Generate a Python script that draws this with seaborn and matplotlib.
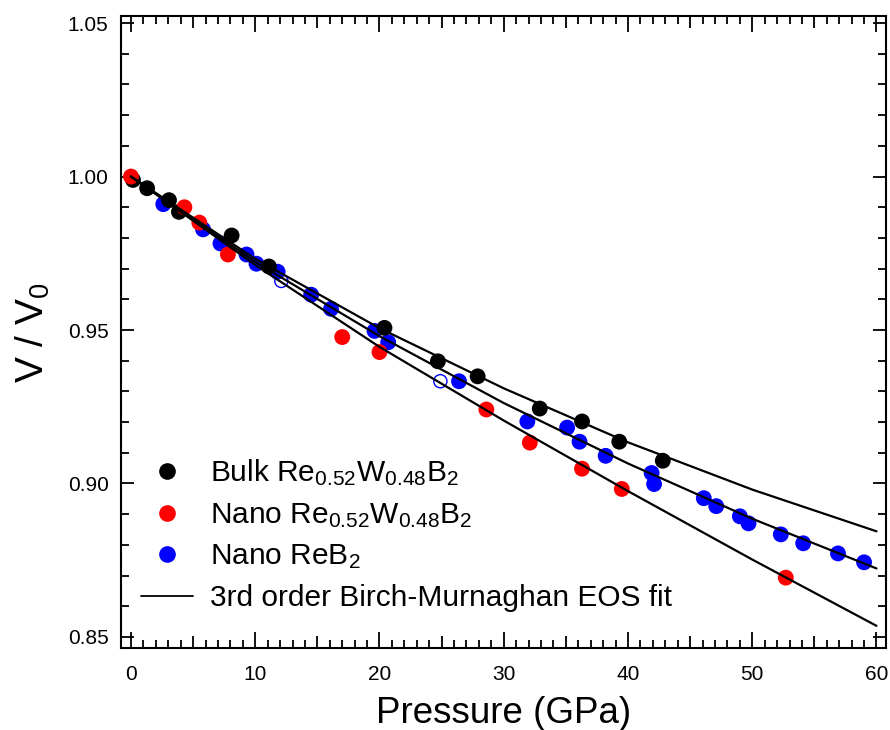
import pandas as pd
import seaborn as sns
import matplotlib.pyplot as plt
from matplotlib.lines import Line2D
from matplotlib.ticker import MultipleLocator

# Pressure (GPa) and V/V0 values
bulk_p = [0.16, 1.3, 3.06, 3.86, 8.1, 11.1, 20.4, 24.7, 27.9, 32.9, 36.3, 39.3, 42.8]
bulk_v = [0.9989, 0.9962, 0.9923, 0.9885, 0.9808, 0.9707, 0.9507, 0.9398,
          0.9349, 0.9244, 0.9202, 0.9136, 0.9074]

nano_p = [0.0, 4.3, 5.5, 7.8, 17.0, 20.0, 28.6, 32.1, 36.3, 39.5, 52.7]
nano_v = [1.000, 0.990, 0.985, 0.9746, 0.9477, 0.9428, 0.9241, 0.9133,
          0.9048, 0.8982, 0.8693]

reb2_p = [2.6, 5.8, 7.2, 9.3, 10.1, 11.8, 14.5, 16.1, 19.6, 20.7, 26.4, 31.9,
          35.1, 36.1, 38.2, 41.9, 42.1, 46.1, 47.1, 49.0, 49.7, 52.3, 54.1,
          56.9, 59.0]
reb2_v = [0.991, 0.9828, 0.9782, 0.9746, 0.9716, 0.969, 0.9615, 0.9569,
          0.9497, 0.946, 0.9333, 0.9202, 0.9182, 0.9136, 0.909, 0.9034,
          0.8998, 0.8952, 0.8926, 0.8893, 0.887, 0.8834, 0.8805, 0.8772,
          0.8743]

# points left out of the fit (open circles)
reb2_open_p = [12.1, 24.9]
reb2_open_v = [0.966, 0.9333]

# EOS fit curves, read every 10 GPa
fit_p = [0, 10, 20, 30, 40, 50, 60]
fit_bulk = [1.000, 0.9732, 0.9506, 0.9310, 0.9134, 0.8980, 0.8844]
fit_reb2 = [1.000, 0.9722, 0.9480, 0.9262, 0.9065, 0.8885, 0.8723]
fit_nano = [1.000, 0.9712, 0.9445, 0.9205, 0.8975, 0.8752, 0.8536]

labels = ["Bulk Re$_{0.52}$W$_{0.48}$B$_2$",
          "Nano Re$_{0.52}$W$_{0.48}$B$_2$",
          "Nano ReB$_2$"]
colors = {"bulk": "#000000", "nano": "#ff0000", "reb2": "#0000ff"}

sns.set_style("ticks")
plt.rcParams["font.family"] = ["Liberation Sans", "DejaVu Sans"]
plt.rcParams["mathtext.fontset"] = "custom"
plt.rcParams["mathtext.rm"] = "Liberation Sans"
plt.rcParams["mathtext.it"] = "Liberation Sans"
plt.rcParams["mathtext.default"] = "regular"
plt.rcParams["text.color"] = "black"
plt.rcParams["axes.labelcolor"] = "black"
plt.rcParams["xtick.labelcolor"] = "black"
plt.rcParams["ytick.labelcolor"] = "black"

# one long table for the points, blue drawn first, red last
pts = pd.concat([
    pd.DataFrame({"P": reb2_p, "V": reb2_v, "sample": "reb2"}),
    pd.DataFrame({"P": bulk_p, "V": bulk_v, "sample": "bulk"}),
    pd.DataFrame({"P": nano_p, "V": nano_v, "sample": "nano"}),
], ignore_index=True)

fits = pd.concat([
    pd.DataFrame({"P": fit_p, "V": fit_bulk, "sample": "bulk"}),
    pd.DataFrame({"P": fit_p, "V": fit_reb2, "sample": "reb2"}),
    pd.DataFrame({"P": fit_p, "V": fit_nano, "sample": "nano"}),
], ignore_index=True)

fig = plt.figure(figsize=(8.9, 7.3), dpi=100)
ax = fig.add_axes([0.136, 0.112, 0.86, 0.866])

sns.scatterplot(data=pts, x="P", y="V", hue="sample", palette=colors,
                s=130, linewidth=0, legend=False, ax=ax, zorder=2)
ax.scatter(reb2_open_p, reb2_open_v, s=90, facecolors="none",
           edgecolors="#0000ff", linewidths=1.0, zorder=2)
sns.lineplot(data=fits, x="P", y="V", units="sample", estimator=None,
             color="black", lw=1.6, ax=ax, zorder=3)

ax.set_xlim(-0.8, 60.8)
ax.set_ylim(0.8463, 1.0523)
ax.xaxis.set_major_locator(MultipleLocator(10))
ax.xaxis.set_minor_locator(MultipleLocator(1))
ax.yaxis.set_major_locator(MultipleLocator(0.05))
ax.yaxis.set_minor_locator(MultipleLocator(0.01))
ax.yaxis.set_major_formatter(plt.FormatStrFormatter("%.2f"))

for s in ax.spines.values():
    s.set_linewidth(1.5)
    s.set_color("black")
ax.tick_params(which="both", direction="in", top=True, right=True,
               width=1.3, color="black", labelsize=15)
ax.tick_params(axis="x", which="major", length=11.5, pad=12)
ax.tick_params(axis="y", which="major", length=9.5, pad=9)
ax.tick_params(which="minor", length=5.8)

# the 5 GPa minor ticks are a bit longer
fig.canvas.draw()
for loc, t in zip(ax.xaxis.get_minorticklocs(), ax.xaxis.get_minor_ticks()):
    if abs(loc % 10 - 5) < 1e-6:
        t.tick1line.set_markersize(8.6)
        t.tick2line.set_markersize(8.6)

ax.set_xlabel("Pressure (GPa)", fontsize=26.5, labelpad=9)
ax.set_ylabel("V / V$_0$", fontsize=28, labelpad=11)

handles = [Line2D([], [], marker="o", ls="none", color=colors[k],
                  markersize=12, markeredgewidth=0)
           for k in ["bulk", "nano", "reb2"]]
handles.append(Line2D([], [], color="black", lw=1.3))
ax.legend(handles, labels + ["3rd order Birch-Murnaghan EOS fit"],
          loc="upper left", bbox_to_anchor=(0.026, 0.302), frameon=False,
          fontsize=21.5, borderpad=0, borderaxespad=0, handlelength=1.75,
          handletextpad=0.55, labelspacing=0.43)

fig.savefig("out.png", dpi=100)
